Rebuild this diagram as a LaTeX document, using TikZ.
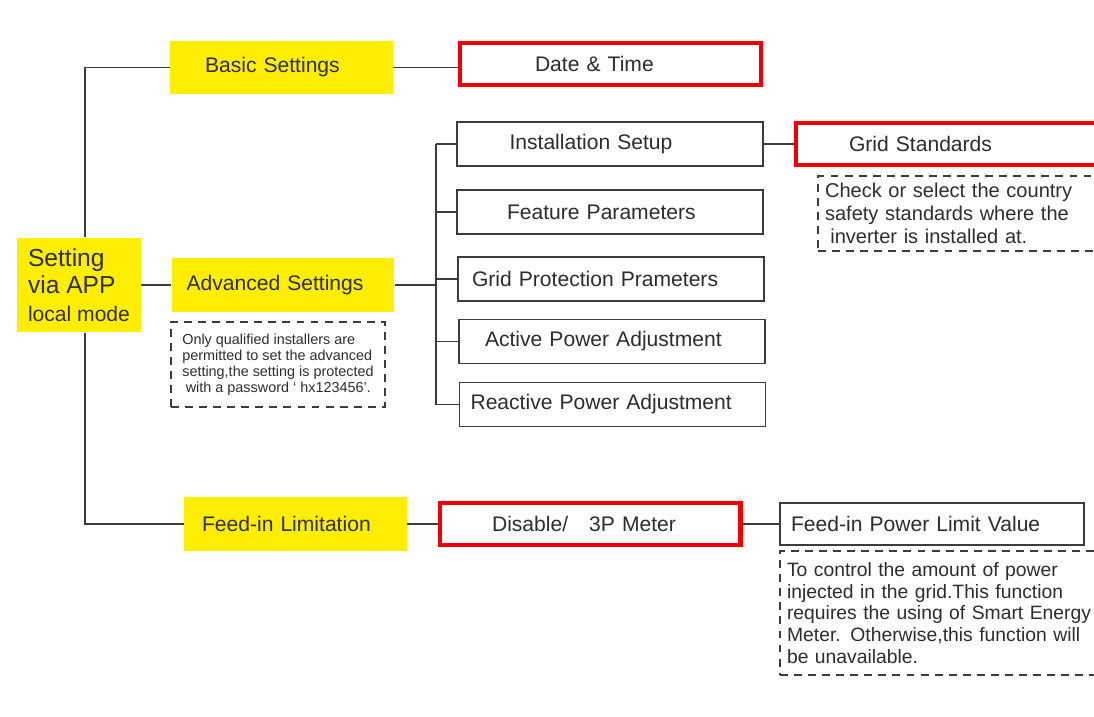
\documentclass[tikz,border=0pt]{standalone}
\usepackage{fontspec}
\setmainfont{Liberation Sans}
\definecolor{appyellow}{RGB}{255,238,0}
\definecolor{boxgray}{RGB}{60,60,60}
\definecolor{txtgray}{RGB}{45,45,45}
\definecolor{markred}{RGB}{240,0,0}
\begin{document}
\begin{tikzpicture}[x=0.02cm, y=-0.02cm,
  every node/.style={text=txtgray},
  ybox/.style={fill=appyellow, minimum width=4.46cm, minimum height=1.08cm, font=\fontsize{12}{14}\selectfont},
  gbox/.style={draw=boxgray, line width=0.9pt, fill=white, minimum width=6.12cm, minimum height=0.88cm, font=\fontsize{12}{14}\selectfont},
  rbox/.style={draw=markred, line width=2.3pt, fill=white, minimum width=6.02cm, minimum height=0.84cm, font=\fontsize{12}{14}\selectfont},
  notebox/.style={draw=boxgray, dash pattern=on 4.5pt off 3.5pt, line width=0.9pt, align=left},
  lpad/.style 2 args={align=left, inner xsep=#2, text width=#1-2*#2},
  link/.style={draw=boxgray, line width=1.1pt}]
  \useasboundingbox (0,0) rectangle (1094,716);
  \clip (0,0) rectangle (1094,716);

  % Root and first level (yellow)
  \node[ybox, minimum width=2.48cm, minimum height=1.9cm, align=left, font=\fontsize{14}{15.5}\selectfont] (setting) at (79,285) {Setting\\via APP\\{\fontsize{12}{15.5}\selectfont local mode}};
  \node[ybox, lpad={4.46cm}{0.7cm}] (basic) at (281.5,67.5) {Basic Settings};
  \node[ybox, lpad={4.46cm}{0.3cm}] (advanced) at (283,285) {Advanced Settings};
  \node[ybox, lpad={4.46cm}{0.36cm}] (feedinlim) at (295.5,524) {Feed-in Limitation};
  \node[notebox, minimum width=4.28cm, minimum height=1.7cm, font=\fontsize{8.2}{9.1}\selectfont] (advnote) at (278,364.5) {Only qualified installers are\\permitted to set the advanced\\setting,the setting is protected\\\hspace*{2pt}with a password ` hx123456'.};

  % Basic settings
  \node[rbox, lpad={6.02cm}{1.5cm}] (datetime) at (610.5,64) {Date \& Time};

  % Advanced settings
  \node[gbox, lpad={6.12cm}{1.05cm}] (install) at (610,144) {Installation Setup};
  \node[gbox, lpad={6.12cm}{1.0cm}] (feature) at (610,212) {Feature Parameters};
  \node[gbox, lpad={6.12cm}{0.28cm}] (gridprot) at (611,279) {Grid Protection Prameters};
  \node[gbox, lpad={6.12cm}{0.52cm}] (active) at (612,341.5) {Active Power Adjustment};
  \node[gbox, lpad={6.12cm}{0.22cm}] (reactive) at (612.5,404.5) {Reactive Power Adjustment};
  \node[rbox, minimum width=6.0cm, lpad={6.0cm}{1.06cm}] (gridstd) at (946,144) {Grid Standards};
  \node[notebox, minimum height=1.5cm, lpad={5.64cm}{0.14cm}, font=\fontsize{11.4}{13}\selectfont] (gridnote) at (959,213.5) {Check or select the country\\safety standards where the\\\hspace*{3pt}inverter is installed at.};

  % Feed-in limitation
  \node[rbox, lpad={6.02cm}{1.05cm}] (disable) at (590,524) {Disable/\hspace{8pt} 3P Meter};
  \node[gbox, minimum width=6.08cm, minimum height=0.84cm, lpad={6.08cm}{0.22cm}] (fplv) at (932,524) {Feed-in Power Limit Value};
  \node[notebox, minimum height=2.48cm, lpad={6.4cm}{0.14cm}, font=\fontsize{11}{12.3}\selectfont] (fplvnote) at (940,613) {To control the amount of power\\injected in the grid.This function\\requires the using of Smart Energy\\Meter. Otherwise,this function will\\be unavailable.};

  % Connectors
  \draw[link] (basic.west) -| ([xshift=0.12cm]setting.north);
  \draw[link] ([xshift=0.12cm]setting.south) |- (feedinlim.west);
  \draw[link] (setting.east) -- (advanced.west);
  \draw[link] (basic.east) -- (basic.east -| datetime.west);
  \coordinate (bus) at (436,285);
  \draw[link] (advanced.east) -- (bus);
  \draw[link] (install.west -| bus) -- (reactive.west -| bus);
  \foreach \n in {install,feature,gridprot,active,reactive}
    \draw[link] (\n.west -| bus) -- (\n.west);
  \draw[link] (install.east) -- (gridstd.west);
  \draw[link] (feedinlim.east) -- (disable.west);
  \draw[link] (disable.east) -- (fplv.west);
\end{tikzpicture}
\end{document}
